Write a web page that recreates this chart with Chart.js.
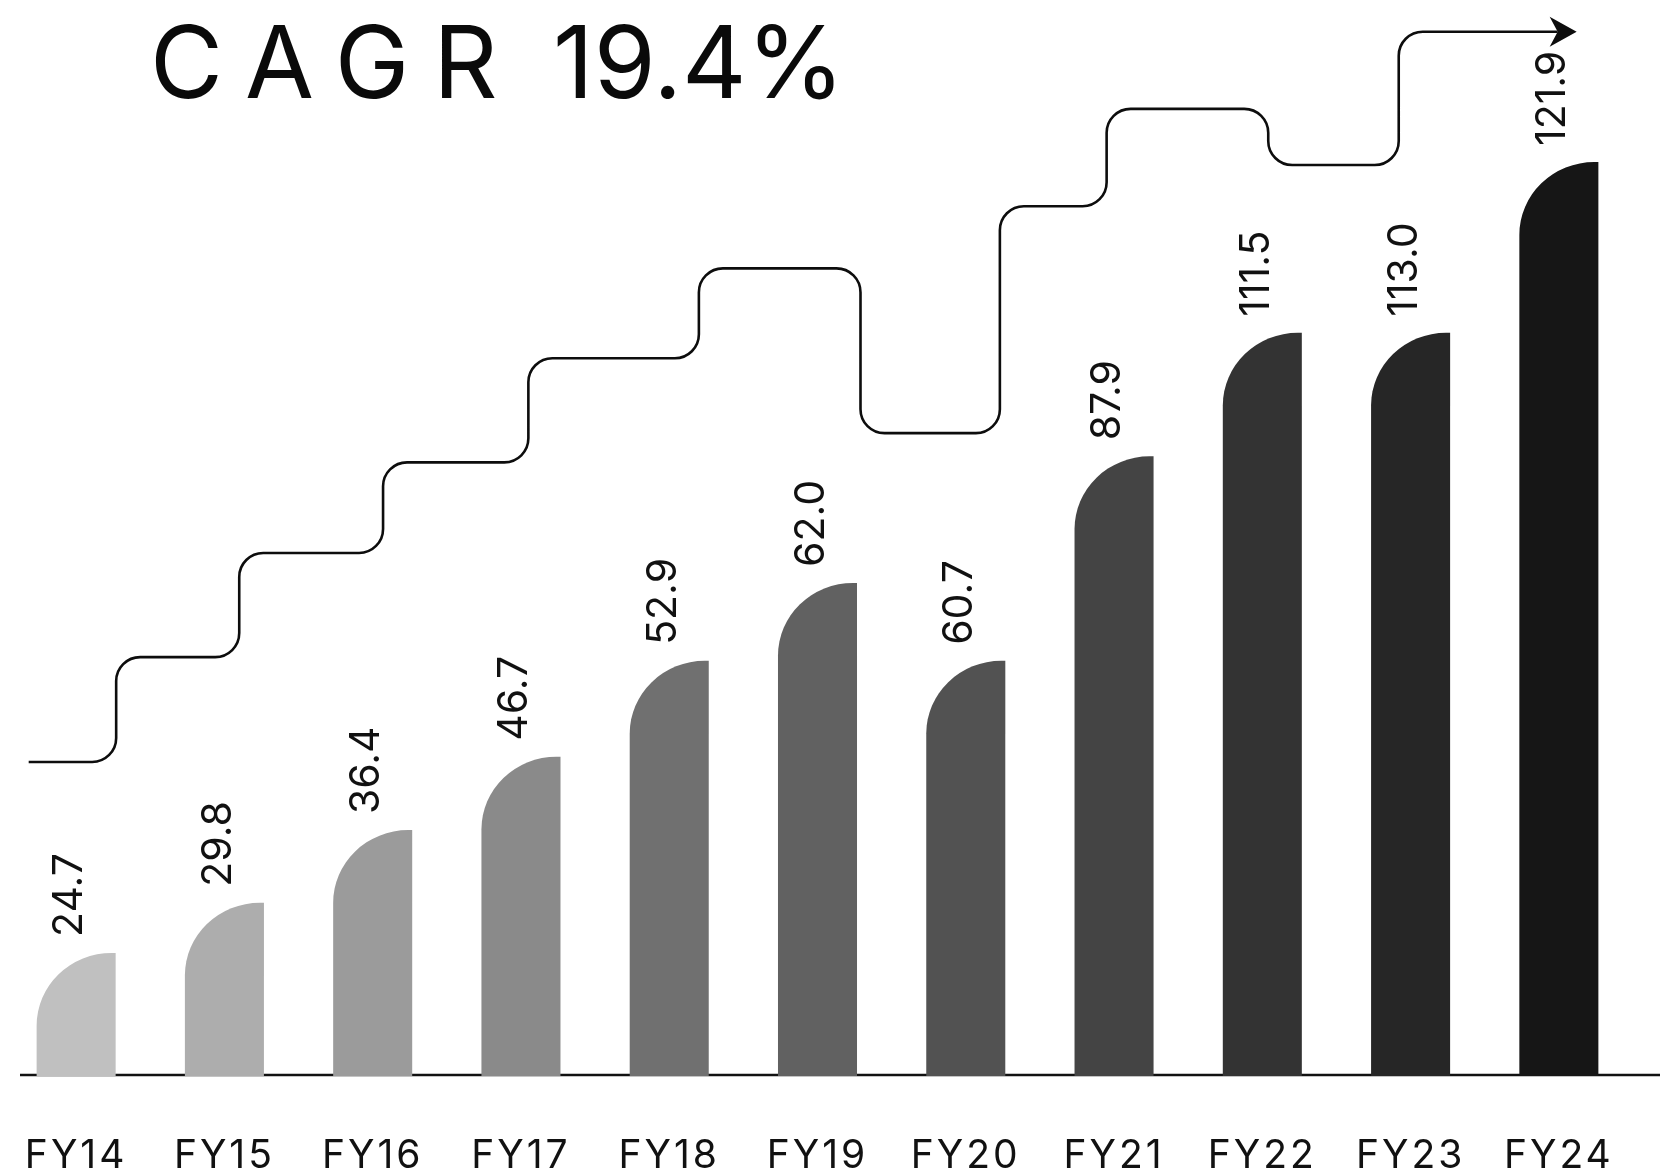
<!DOCTYPE html>
<html>
<head>
<meta charset="utf-8">
<script src="https://cdn.jsdelivr.net/npm/chart.js@4.4.1/dist/chart.umd.min.js"></script>
<style>
  html, body { margin: 0; padding: 0; background: #fff; }
  #wrap { width: 1660px; height: 1175px; position: relative; }
</style>
</head>
<body>
<div id="wrap"><canvas id="cagr-chart"></canvas></div>
<script>
const years = ['FY14', 'FY15', 'FY16', 'FY17', 'FY18', 'FY19', 'FY20', 'FY21', 'FY22', 'FY23', 'FY24'];
const values = [24.7, 29.8, 36.4, 46.7, 52.9, 62.0, 60.7, 87.9, 111.5, 113.0, 121.9];
// bar heights as drawn in the picture (the graphic is not to scale with the labels)
const barHeights = [16.3, 23.0, 32.7, 42.5, 55.3, 65.7, 55.3, 82.6, 99.1, 99.1, 121.9];
const barColors = ['#c0c0c0', '#adadad', '#9b9b9b', '#8a8a8a', '#707070', '#616161',
                   '#525252', '#444444', '#333333', '#262626', '#161616'];
// staircase line: height of each step and where it starts/ends (category units)
const stepLevels = [41.8, 55.8, 69.7, 81.8, 95.7, 107.7, 85.7, 116.0, 129.0, 121.5, 139.3];
const stepBreaks = [-0.32, 0.27, 1.10, 2.07, 3.05, 4.20, 5.29, 6.23, 6.95, 8.04, 8.92, 10.12];
const cagrWord = 'CAGR';
const cagrRate = '19.4%';

const FONT = 'Inter, "DejaVu Sans", sans-serif';

// letter spacing for the axis ticks (set before scales draw, cleared before bars)
const spacedTicks = {
    id: 'spacedTicks',
    beforeDraw(chart) { chart.ctx.letterSpacing = '3px'; },
    beforeDatasetsDraw(chart) { chart.ctx.letterSpacing = '0px'; }
};

// bars with one big rounded corner on the top left + rotated value labels
const roundedBars = {
    id: 'roundedBars',
    beforeDatasetDraw(chart, args) {
        const ctx = chart.ctx;
        const meta = args.meta;
        const base = chart.scales.y.getPixelForValue(0);
        ctx.save();
        ctx.strokeStyle = '#111';
        ctx.lineWidth = 2.5;
        ctx.beginPath();
        ctx.moveTo(20, base);
        ctx.lineTo(chart.width, base);
        ctx.stroke();

        meta.data.forEach((bar, i) => {
            const left = bar.x - bar.width / 2;
            const right = bar.x + bar.width / 2;
            const top = bar.y;
            const bottom = bar.base + 1;
            const rx = bar.width * 0.95;
            const ry = Math.min(bar.width * 0.92, bottom - top);
            ctx.fillStyle = barColors[i];
            ctx.beginPath();
            ctx.moveTo(left, bottom);
            ctx.lineTo(left, top + ry);
            ctx.ellipse(left + rx, top + ry, rx, ry, 0, Math.PI, 1.5 * Math.PI);
            ctx.lineTo(right, top);
            ctx.lineTo(right, bottom);
            ctx.closePath();
            ctx.fill();
        });

        ctx.font = `41px ${FONT}`;
        ctx.fillStyle = '#111';
        ctx.textAlign = 'left';
        ctx.textBaseline = 'middle';
        meta.data.forEach((bar, i) => {
            ctx.save();
            ctx.translate(bar.x - 6, bar.y - 16);
            ctx.rotate(-Math.PI / 2);
            ctx.fillText(values[i].toFixed(1), 0, 0);
            ctx.restore();
        });
        ctx.restore();
        return false; // skip default rectangles
    }
};

// rounded staircase with arrow + title
const staircase = {
    id: 'staircase',
    afterDatasetsDraw(chart) {
        const {ctx, scales: {x, y}} = chart;
        const pts = [];
        stepLevels.forEach((lv, i) => {
            const py = y.getPixelForValue(lv);
            pts.push([x.getPixelForValue(stepBreaks[i]), py]);
            pts.push([x.getPixelForValue(stepBreaks[i + 1]), py]);
        });
        const tip = pts[pts.length - 1];
        const headLen = 27, headHalf = 15, notch = 8;

        ctx.save();
        ctx.strokeStyle = '#0d0d0d';
        ctx.lineWidth = 2.6;
        ctx.beginPath();
        ctx.moveTo(pts[0][0], pts[0][1]);
        for (let k = 1; k < pts.length - 1; k++) {
            const [px, py] = pts[k];
            const [qx, qy] = pts[k - 1];
            const [nx, ny] = pts[k + 1];
            const segPrev = Math.hypot(px - qx, py - qy);
            const segNext = Math.hypot(nx - px, ny - py);
            const r = Math.min(24, segPrev / 2, segNext / 2);
            ctx.arcTo(px, py, nx, ny, r);
        }
        ctx.lineTo(tip[0] - headLen + notch, tip[1]);
        ctx.stroke();

        ctx.fillStyle = '#0d0d0d';
        ctx.beginPath();
        ctx.moveTo(tip[0], tip[1]);
        ctx.lineTo(tip[0] - headLen, tip[1] - headHalf);
        ctx.lineTo(tip[0] - headLen + notch, tip[1]);
        ctx.lineTo(tip[0] - headLen, tip[1] + headHalf);
        ctx.closePath();
        ctx.fill();

        // title
        ctx.fillStyle = '#0a0a0a';
        ctx.font = `100px ${FONT}`;
        ctx.textAlign = 'left';
        ctx.textBaseline = 'alphabetic';
        ctx.letterSpacing = '24px';
        ctx.fillText(cagrWord, 150, 98);
        ctx.letterSpacing = '0px';
        ctx.fillText(cagrRate, 553, 98);
        ctx.restore();
    }
};

new Chart(document.getElementById('cagr-chart'), {
    type: 'bar',
    data: {
        labels: years,
        datasets: [{
            data: barHeights,
            backgroundColor: barColors,
            categoryPercentage: 1,
            barPercentage: 0.533
        }]
    },
    options: {
        responsive: true,
        maintainAspectRatio: false,
        animation: false,
        layout: { padding: { left: 2, right: 27, top: 4, bottom: 0 } },
        plugins: {
            legend: { display: false },
            tooltip: { enabled: false }
        },
        scales: {
            x: {
                grid: { display: false, drawTicks: false },
                border: { display: false },
                ticks: {
                    color: '#111',
                    font: { family: FONT, size: 39, lineHeight: 1 },
                    padding: 62,
                    maxRotation: 0,
                    autoSkip: false
                },
                afterFit(scale) {
                    // labels sit far below the baseline; keep the axis box tight
                    scale.height = 100;
                    scale.paddingLeft = 0;
                    scale.paddingRight = 0;
                }
            },
            y: {
                display: false,
                min: 0,
                max: 143
            }
        }
    },
    plugins: [spacedTicks, roundedBars, staircase]
});
</script>
</body>
</html>
